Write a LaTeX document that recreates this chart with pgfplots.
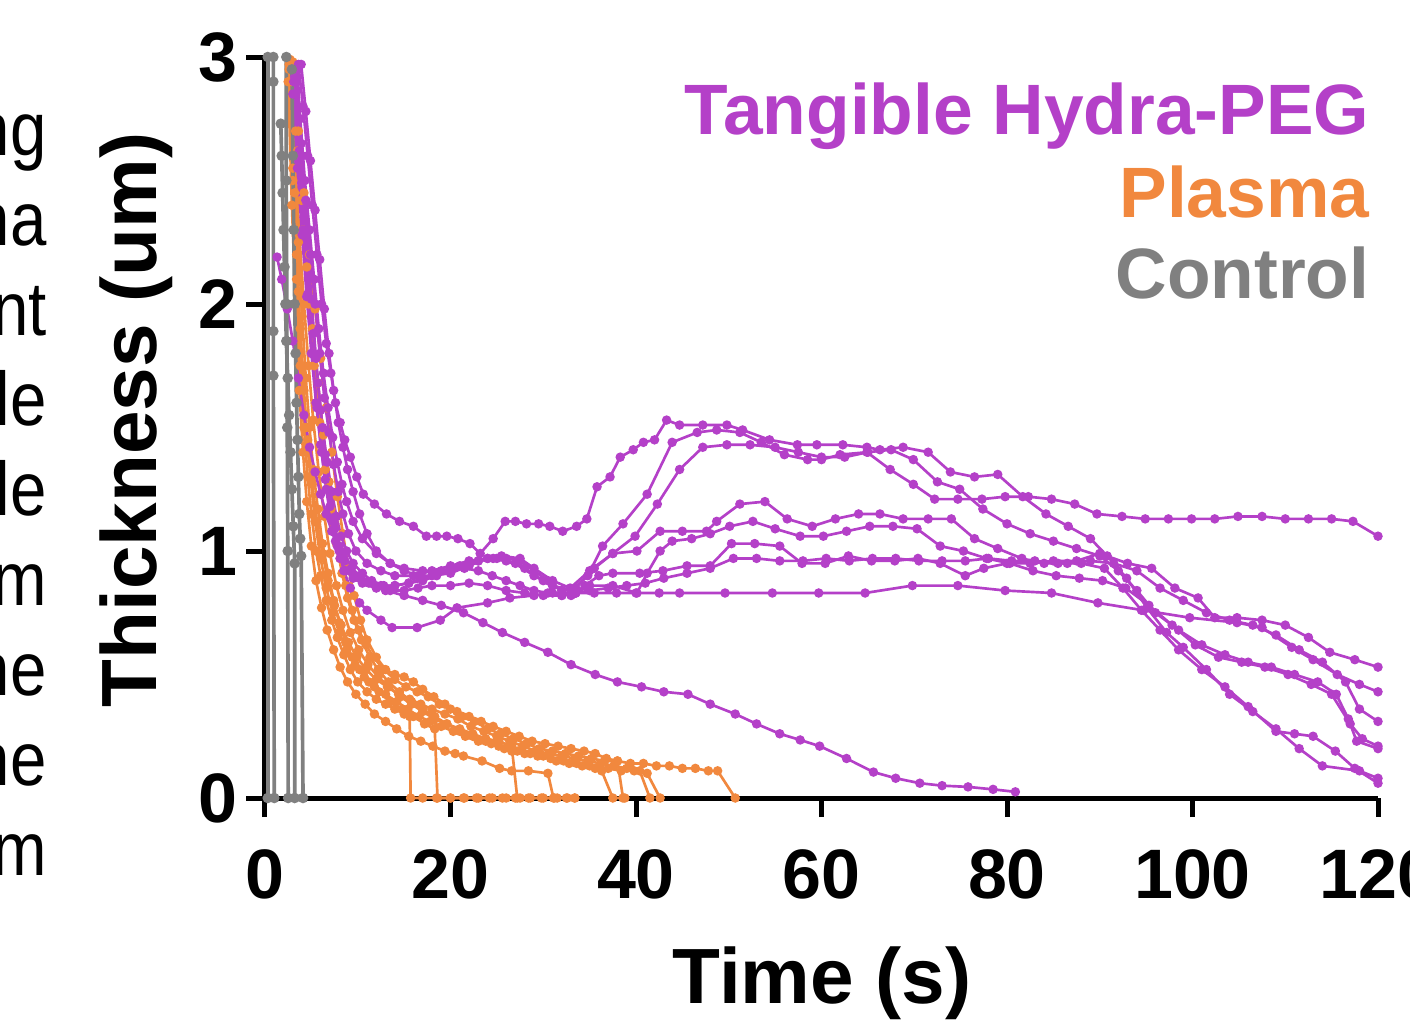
\documentclass[border=0pt]{standalone}
\usepackage{fontspec}
\setmainfont{Liberation Sans}
\usepackage{pgfplots}
\pgfplotsset{compat=1.18}
\definecolor{hpurple}{RGB}{180,64,200}
\definecolor{horange}{RGB}{241,136,62}
\definecolor{hgray}{RGB}{128,128,128}
\pgfplotsset{
 pp/.style={color=hpurple, line width=0.8pt, mark=*, mark size=1.0pt, mark options={solid}},
 po/.style={color=horange, line width=0.8pt, mark=*, mark size=1.0pt, mark options={solid}},
 pg/.style={color=hgray, line width=1.1pt, mark=*, mark size=1.0pt, mark options={solid}},
}
\begin{document}
\begin{tikzpicture}
\useasboundingbox (0,0) rectangle (423pt,306.3pt);
\clip (0,0) rectangle (423pt,306.3pt);
\begin{axis}[
 at={(79.5pt,66.9pt)}, anchor=south west,
 scale only axis, width=333.9pt, height=222.3pt,
 xmin=0, xmax=120, ymin=0, ymax=3,
 axis lines=left, axis line style={-, line width=1.5pt, black},
 clip=false,
 tick align=outside, major tick length=5.7pt,
 tick style={line width=1.5pt, black},
 xtick={0,20,40,60,80,100,120}, xticklabels={0,20,40,60,80,100,120},
 ytick={0,1,2,3}, yticklabels={0,1,2,3},
 /pgf/number format/assume math mode=true,
 ticklabel style={font=\fontsize{21}{21}\selectfont\bfseries, inner sep=0pt},
 yticklabel style={xshift=-2.4pt},
 xticklabel style={yshift=-9.6pt},
]
% ---------------- Plasma (orange)
\addplot[po] coordinates {(2.6,2.95)(3.0,2.5)(3.4,2.1)(3.8,1.75)(4.2,1.5)(4.6,1.3)(5.0,1.15)(5.5,1.0)(6.0,0.9)(6.6,0.8)(7.2,0.72)(7.8,0.65)(8.5,0.58)(9.2,0.52)(10,0.47)(11,0.43)(12,0.40)(13,0.38)(14,0.36)(15,0.34)(15.6,0.33)(15.7,0)(17,0)(18.5,0)(20,0)(21.4,0)(22.8,0)(24.2,0)(25.6,0)(27,0)(28.4,0)(29.8,0)(31.2,0)(32.6,0)(33.4,0)};
\addplot[po] coordinates {(2.8,2.98)(3.2,2.6)(3.6,2.25)(4.0,1.95)(4.4,1.7)(4.8,1.5)(5.2,1.33)(5.7,1.17)(6.2,1.03)(6.8,0.91)(7.4,0.8)(8.0,0.71)(8.7,0.63)(9.4,0.57)(10.2,0.52)(11.2,0.47)(12.3,0.43)(13.5,0.39)(14.8,0.36)(16,0.33)(17.2,0.3)(18.3,0.28)(18.6,0)(20,0)(21.5,0)(23,0)(24.5,0)(26,0)(27.5,0)};
\addplot[po] coordinates {(2.9,2.97)(3.5,2.62)(4.1,2.3)(4.7,2.0)(5.3,1.75)(5.9,1.52)(6.5,1.33)(7.1,1.17)(7.7,1.03)(8.3,0.91)(8.9,0.81)(9.6,0.72)(10.4,0.64)(11.3,0.57)(12.2,0.52)(13.3,0.47)(14.5,0.43)(15.8,0.39)(17,0.36)(18.3,0.33)(19.6,0.3)(21,0.28)(22.4,0.26)(23.8,0.24)(25.2,0.23)(26.6,0.21)(27.2,0)(28.6,0)(30,0)(31.5,0)};
\addplot[po] coordinates {(2.5,2.9)(2.9,2.4)(3.3,2.0)(3.7,1.65)(4.1,1.4)(4.5,1.2)(5.0,1.02)(5.5,0.88)(6.1,0.77)(6.7,0.68)(7.4,0.6)(8.1,0.53)(8.9,0.47)(9.8,0.42)(10.8,0.38)(11.8,0.34)(13,0.31)(14.2,0.28)(15.5,0.25)(16.8,0.23)(18.1,0.21)(19.4,0.19)(20.5,0.18)(21.4,0.17)(23.4,0.15)(25.3,0.12)(26.6,0.11)(28.4,0.11)(30.5,0.10)(31.1,0)(32.5,0)(33.4,0)};
\addplot[po] coordinates {(2.7,2.96)(3.2,2.6)(3.7,2.28)(4.2,2.0)(4.7,1.75)(5.2,1.53)(5.8,1.32)(6.4,1.14)(7.0,0.99)(7.7,0.86)(8.4,0.76)(9.2,0.67)(10.1,0.6)(11.1,0.54)(12.2,0.49)(13.4,0.45)(14.6,0.41)(15.8,0.38)(17,0.35)(18.3,0.32)(19.6,0.3)(21,0.27)(22.4,0.25)(23.8,0.23)(25.2,0.21)(26.6,0.19)(28,0.18)(29.4,0.17)(30.8,0.16)(32.2,0.15)(33.6,0.14)(35,0.13)(36.3,0.11)(37.5,0)(38.8,0)};
\addplot[po] coordinates {(3.0,2.98)(3.6,2.7)(4.2,2.45)(4.8,2.2)(5.4,1.98)(6.0,1.78)(6.6,1.58)(7.2,1.4)(7.8,1.22)(8.4,1.07)(9.0,0.93)(9.6,0.82)(10.3,0.72)(11,0.64)(12,0.57)(13,0.52)(14,0.5)(15,0.49)(16,0.47)(17,0.44)(18.2,0.41)(19.4,0.38)(20.7,0.35)(22,0.33)(23.3,0.31)(24.6,0.29)(26,0.27)(27.4,0.25)(28.8,0.23)(30.2,0.22)(31.6,0.21)(33,0.2)(34.4,0.19)(35.6,0.18)(36.8,0.16)(38,0.15)(38.6,0)};
\addplot[po] coordinates {(2.6,2.97)(3.0,2.55)(3.4,2.2)(3.8,1.9)(4.2,1.65)(4.6,1.45)(5.1,1.27)(5.6,1.12)(6.2,0.99)(6.8,0.88)(7.5,0.78)(8.2,0.7)(9.0,0.63)(9.9,0.57)(10.9,0.52)(12,0.48)(13.2,0.45)(14.4,0.42)(15.6,0.4)(16.8,0.38)(18,0.36)(19.4,0.34)(20.8,0.32)(22.2,0.29)(23.6,0.27)(25,0.25)(26.4,0.23)(27.8,0.21)(29.2,0.19)(30.6,0.18)(32,0.17)(33.4,0.16)(34.8,0.15)(36.2,0.14)(37.6,0.13)(39,0.12)(40.4,0.11)(41.5,0)};
\addplot[po] coordinates {(2.8,2.9)(3.2,2.45)(3.6,2.05)(4.0,1.75)(4.4,1.5)(4.9,1.3)(5.4,1.12)(6.0,0.97)(6.6,0.85)(7.3,0.75)(8.0,0.67)(8.8,0.6)(9.7,0.54)(10.7,0.49)(11.8,0.45)(13,0.42)(14.2,0.39)(15.4,0.36)(16.6,0.33)(17.8,0.31)(19,0.29)(20.3,0.27)(21.6,0.25)(23,0.23)(24.4,0.22)(25.8,0.2)(27.2,0.19)(28.6,0.18)(30,0.17)(31.4,0.15)(32.8,0.14)(34.2,0.13)(35.6,0.12)(37,0.12)(38.4,0.11)(39.8,0.11)(41.2,0.10)(42.6,0)};
\addplot[po] coordinates {(2.7,2.99)(3.3,2.7)(3.9,2.42)(4.5,2.15)(5.1,1.9)(5.7,1.68)(6.3,1.47)(6.9,1.28)(7.5,1.11)(8.1,0.97)(8.7,0.86)(9.4,0.76)(10.1,0.68)(10.9,0.62)(11.7,0.57)(12.8,0.52)(14,0.48)(15.2,0.45)(16.4,0.43)(17.6,0.41)(18.8,0.38)(20,0.36)(21.3,0.33)(22.6,0.31)(24,0.28)(25.4,0.26)(26.8,0.24)(28.2,0.22)(29.6,0.2)(31,0.19)(32.4,0.18)(33.8,0.17)(35.2,0.16)(36.6,0.15)(38,0.15)(39.4,0.14)(40.8,0.14)(42.2,0.13)(43.6,0.13)(45,0.12)(46.4,0.12)(47.8,0.11)(48.8,0.11)(50.7,0)};
% ---------------- Tangible Hydra-PEG (purple)
\addplot[pp] coordinates {(3.6,2.97)(4.1,2.8)(4.6,2.6)(5.1,2.4)(5.6,2.2)(6.1,2.0)(6.6,1.84)(7.1,1.72)(7.6,1.6)(8.1,1.52)(8.6,1.45)(9.2,1.38)(9.9,1.3)(10.6,1.23)(11.8,1.19)(13.1,1.15)(14.5,1.12)(16,1.10)(17.4,1.06)(18.5,1.06)(19.6,1.06)(20.8,1.05)(22.1,1.03)(23.2,0.99)(24.6,1.05)(25.9,1.12)(27,1.12)(28.2,1.11)(29.5,1.11)(30.7,1.10)(32.1,1.08)(33.6,1.10)(34.7,1.13)(35.8,1.26)(37.2,1.30)(38.3,1.38)(39.7,1.41)(40.8,1.44)(42,1.45)(43.3,1.53)(44.7,1.51)(47.2,1.51)(49.8,1.51)(51.5,1.49)(54.4,1.45)(57.4,1.43)(59.5,1.43)(62.3,1.43)(64.9,1.42)(66.3,1.41)(68.8,1.42)(71.5,1.40)(73.9,1.32)(76.5,1.30)(79,1.31)(81.7,1.22)(84.2,1.15)(86.6,1.10)(89,1.05)(90.8,0.98)(92.9,0.89)(95.1,0.77)(97.2,0.67)(99,0.61)(101.5,0.52)(104,0.42)(106.5,0.35)(109,0.28)(111.5,0.2)(114,0.13)(118,0.11)(120,0.08)};
\addplot[pp] coordinates {(3.3,2.95)(3.8,2.75)(4.3,2.5)(4.8,2.3)(5.3,2.1)(5.8,1.9)(6.3,1.72)(6.8,1.58)(7.3,1.46)(7.8,1.36)(8.3,1.27)(8.8,1.2)(9.5,1.12)(10.5,1.05)(12,0.99)(13.5,0.95)(15,0.93)(17,0.92)(19,0.92)(21,0.94)(23,0.96)(25,0.97)(27,0.95)(29,0.90)(31,0.86)(33,0.84)(34.8,0.9)(36.4,1.02)(38.6,1.11)(41.2,1.23)(43.9,1.44)(46.6,1.48)(48.7,1.49)(51.2,1.48)(53.5,1.44)(56,1.39)(58.5,1.37)(60,1.37)(62,1.39)(64.9,1.40)(67.4,1.33)(69.9,1.27)(72.2,1.21)(74.7,1.21)(77.3,1.21)(79.8,1.22)(82.3,1.22)(84.8,1.21)(87.3,1.19)(89.7,1.15)(92.4,1.14)(94.9,1.13)(97.4,1.13)(99.9,1.13)(102.4,1.13)(104.9,1.14)(107.5,1.14)(110,1.13)(112.5,1.13)(115,1.13)(117.3,1.12)(120,1.06)};
\addplot[pp] coordinates {(3.9,2.97)(4.4,2.78)(4.9,2.58)(5.4,2.38)(5.9,2.18)(6.4,1.98)(6.9,1.8)(7.4,1.65)(7.9,1.52)(8.4,1.42)(8.9,1.33)(9.5,1.24)(10.2,1.15)(11,1.07)(12,1.0)(13.5,0.95)(15,0.92)(16.5,0.9)(18,0.9)(20,0.91)(22,0.94)(24,0.97)(25.5,0.98)(27.5,0.97)(29,0.93)(31,0.88)(32.9,0.85)(35,0.92)(37.5,0.99)(39.9,1.06)(42.3,1.19)(44.7,1.33)(47.2,1.42)(49.8,1.43)(52.3,1.43)(55,1.42)(57.5,1.40)(60,1.38)(62.5,1.38)(65,1.40)(67.5,1.41)(69.9,1.37)(72.5,1.28)(74.9,1.25)(77.4,1.17)(80,1.11)(82.5,1.07)(85,1.04)(87.5,1.01)(90,0.98)(92,0.92)(94,0.84)(96,0.75)(98.5,0.68)(101,0.62)(103.5,0.58)(106,0.55)(108.5,0.53)(111,0.5)(113.5,0.47)(115.5,0.42)(116.8,0.32)(117.7,0.23)(120,0.20)};
\addplot[pp] coordinates {(3.4,2.9)(3.9,2.65)(4.4,2.42)(4.9,2.2)(5.4,2.0)(5.9,1.8)(6.4,1.62)(6.9,1.48)(7.4,1.35)(7.9,1.24)(8.4,1.15)(9,1.07)(9.8,1.0)(11,0.95)(12.5,0.92)(14,0.9)(16,0.9)(18,0.92)(20,0.94)(22,0.96)(24,0.97)(26,0.96)(28,0.93)(30,0.88)(32,0.84)(33.5,0.85)(35.5,0.93)(37.5,0.99)(40.1,1.0)(42.6,1.08)(45,1.08)(47.6,1.08)(48.7,1.12)(51.2,1.19)(53.9,1.20)(56.3,1.13)(59,1.10)(61.5,1.13)(64,1.15)(66.3,1.15)(68.8,1.13)(71.5,1.13)(74,1.13)(76.5,1.05)(79,1.01)(81.6,0.97)(84,0.95)(86.5,0.95)(89,0.96)(91.5,0.95)(94,0.92)(96.5,0.85)(99,0.8)(101.5,0.75)(104,0.72)(106.5,0.7)(109,0.66)(111.5,0.6)(114,0.55)(116.5,0.47)(118,0.36)(120,0.31)};
\addplot[pp] coordinates {(3.2,2.92)(3.7,2.62)(4.2,2.35)(4.7,2.1)(5.2,1.88)(5.7,1.68)(6.2,1.5)(6.7,1.36)(7.2,1.24)(7.7,1.14)(8.2,1.06)(8.8,1.0)(9.5,0.95)(10.5,0.91)(11.5,0.88)(12.8,0.86)(14,0.86)(15.5,0.87)(17,0.89)(18.5,0.91)(20,0.93)(21.5,0.93)(23,0.92)(24.5,0.9)(26,0.88)(27.5,0.86)(29,0.84)(30.5,0.83)(32,0.82)(33.5,0.83)(35,0.86)(37.5,0.86)(40.1,0.83)(41.2,0.91)(42.6,1.0)(43.9,1.04)(46,1.05)(48,1.07)(50.1,1.10)(52.6,1.12)(55,1.09)(57.7,1.06)(60.2,1.06)(62.7,1.08)(65.2,1.10)(67.7,1.10)(70.3,1.09)(72.8,1.02)(75.3,1.0)(77.8,0.97)(80.3,0.95)(82.8,0.92)(85.3,0.9)(87.8,0.89)(90.3,0.88)(92.8,0.85)(95.3,0.78)(97.8,0.7)(100.3,0.62)(102.8,0.57)(105.3,0.55)(107.8,0.53)(110.3,0.5)(112.8,0.46)(115,0.42)(117,0.3)(118.3,0.24)(120,0.21)};
\addplot[pp] coordinates {(3.0,2.85)(3.5,2.55)(4.0,2.28)(4.5,2.03)(5.0,1.8)(5.5,1.6)(6.0,1.43)(6.5,1.29)(7.0,1.18)(7.5,1.09)(8.0,1.02)(8.6,0.96)(9.3,0.92)(10.2,0.89)(11.2,0.87)(12.5,0.86)(14,0.86)(15.5,0.87)(17,0.88)(18.5,0.9)(20,0.92)(21.5,0.94)(23,0.96)(24.6,0.97)(26,0.97)(27.5,0.96)(29,0.92)(30.5,0.88)(32,0.84)(33,0.82)(34.5,0.86)(36,0.9)(37.5,0.91)(40.4,0.91)(42.9,0.92)(45.5,0.94)(48,0.94)(50.3,1.03)(52.8,1.03)(55.5,1.02)(57.9,0.95)(60.4,0.95)(62.9,0.98)(65.4,0.96)(67.9,0.96)(70.4,0.97)(72.8,0.95)(75.5,0.9)(77.5,0.93)(80,0.95)(82.5,0.95)(85,0.96)(87.5,0.96)(90,0.99)(93,0.95)(95.6,0.93)(98.1,0.85)(100.6,0.81)(102.4,0.73)(104.8,0.73)(107.5,0.72)(110,0.70)(112.5,0.65)(114.8,0.59)(117.5,0.56)(120,0.53)};
\addplot[pp] coordinates {(3.1,2.9)(3.6,2.58)(4.1,2.3)(4.6,2.04)(5.1,1.8)(5.6,1.58)(6.1,1.4)(6.6,1.25)(7.1,1.13)(7.6,1.04)(8.1,0.97)(8.7,0.92)(9.5,0.89)(10.5,0.87)(12,0.85)(13.5,0.84)(15,0.84)(16.5,0.85)(18,0.86)(20,0.86)(22,0.87)(24,0.86)(26,0.84)(28,0.83)(30,0.82)(32,0.82)(33.5,0.83)(35,0.84)(37,0.85)(39,0.86)(41,0.87)(43,0.89)(45.5,0.91)(48,0.93)(50.5,0.97)(53,0.97)(55.5,0.96)(58,0.96)(60.5,0.97)(63,0.96)(65.5,0.97)(68,0.97)(70.5,0.96)(73,0.96)(75.5,0.96)(78,0.97)(80.5,0.96)(83,0.96)(85.5,0.95)(88,0.95)(90.5,0.93)(92.5,0.85)(94.5,0.76)(96.5,0.68)(98.5,0.6)(101,0.52)(103.5,0.45)(106,0.37)(109,0.27)(111,0.26)(113,0.25)(115.4,0.19)(117.5,0.12)(120,0.06)};
\addplot[pp] coordinates {(3.5,2.95)(4.0,2.6)(4.5,2.3)(5.0,2.02)(5.5,1.78)(6.0,1.57)(6.5,1.39)(7.0,1.24)(7.5,1.11)(8.0,1.0)(8.5,0.92)(9.2,0.85)(10.2,0.79)(11,0.76)(12.5,0.72)(13.7,0.69)(16.4,0.69)(18.9,0.72)(20.7,0.77)(24,0.79)(26.4,0.81)(29,0.82)(31,0.83)(33.5,0.83)(35.5,0.83)(37.9,0.83)(40,0.83)(42.5,0.83)(44.7,0.83)(49.6,0.83)(54.7,0.83)(59.7,0.83)(64.7,0.83)(69.8,0.86)(74.7,0.86)(79.8,0.84)(84.8,0.83)(89.8,0.79)(94.7,0.76)(99.7,0.73)(104.8,0.71)(107.5,0.69)(110.7,0.61)(113,0.56)(115.6,0.50)(118,0.46)(120,0.43)};
\addplot[pp] coordinates {(1.3,2.19)(1.8,2.1)(2.4,1.98)(3.0,1.85)(3.6,1.7)(4.2,1.55)(4.8,1.42)(5.4,1.32)(6.0,1.23)(6.6,1.15)(7.2,1.08)(7.8,1.02)(8.5,0.97)(9.3,0.93)(10.3,0.9)(11.5,0.87)(13,0.84)(15,0.82)(17,0.8)(19,0.78)(21.4,0.75)(23.5,0.71)(25.6,0.67)(28,0.63)(30.5,0.59)(33,0.54)(35.6,0.50)(38,0.47)(40.6,0.45)(43,0.43)(45.6,0.42)(48,0.38)(50.7,0.34)(53,0.3)(55.5,0.26)(57.7,0.235)(59.8,0.21)(62.7,0.16)(65.6,0.105)(68,0.08)(70.6,0.06)(73,0.05)(75.8,0.045)(78.5,0.035)(80.9,0.025)};
% ---------------- Control (gray)
\addplot[pg] coordinates {(0.3,3.0)(0.3,0)};
\addplot[pg] coordinates {(0.9,3.0)(0.9,2.9)(0.9,1.89)(0.9,1.71)(1.0,0)};
\addplot[pg] coordinates {(2.3,3.0)(2.3,2.5)(2.35,2.0)(2.4,1.5)(2.45,1.0)(2.5,0)};
\addplot[pg] coordinates {(1.7,2.73)(1.8,2.6)(1.9,2.45)(2.0,2.3)(2.1,2.15)(2.2,2.0)(2.3,1.85)(2.45,1.7)(2.6,1.55)(2.75,1.4)(2.9,1.25)(3.05,1.1)(3.2,0.95)(3.2,0)};
\addplot[pg] coordinates {(2.9,2.95)(3.0,2.6)(3.1,2.3)(3.2,2.0)(3.3,1.8)(3.4,1.6)(3.5,1.45)(3.6,1.3)(3.7,1.15)(3.8,1.05)(3.9,0.98)(4.1,0)};
\end{axis}
% axis titles
\node[rotate=90, anchor=base, font=\fontsize{23.5}{23.5}\selectfont\bfseries] at (46.8pt,180.3pt) {Thickness (um)};
\node[anchor=base, font=\fontsize{23.5}{23.5}\selectfont\bfseries] at (246.6pt,5.4pt) {Time (s)};
% legend texts
\node[anchor=base east, inner sep=0pt, text=hpurple, font=\fontsize{21.4}{21.4}\selectfont\bfseries] at (411pt,266.1pt) {Tangible Hydra-PEG};
\node[anchor=base east, inner sep=0pt, text=horange, font=\fontsize{21.4}{21.4}\selectfont\bfseries] at (411pt,241.2pt) {Plasma};
\node[anchor=base east, inner sep=0pt, text=hgray, font=\fontsize{21.4}{21.4}\selectfont\bfseries] at (411pt,216.9pt) {Control};
% cropped caption fragments at the left edge
\foreach \t/\yy in {ng/259.8, na/232.8, nt/205.8, le/178.8, le/151.8, m/124.8, ne/97.8, ne/70.8, m/43.8}{
  \node[anchor=base east, inner sep=0pt, font=\fontsize{22.8}{22.8}\selectfont] at (14.2pt,\yy pt) {\scalebox{0.86}[1]{\t}};
}
\end{tikzpicture}
\end{document}
